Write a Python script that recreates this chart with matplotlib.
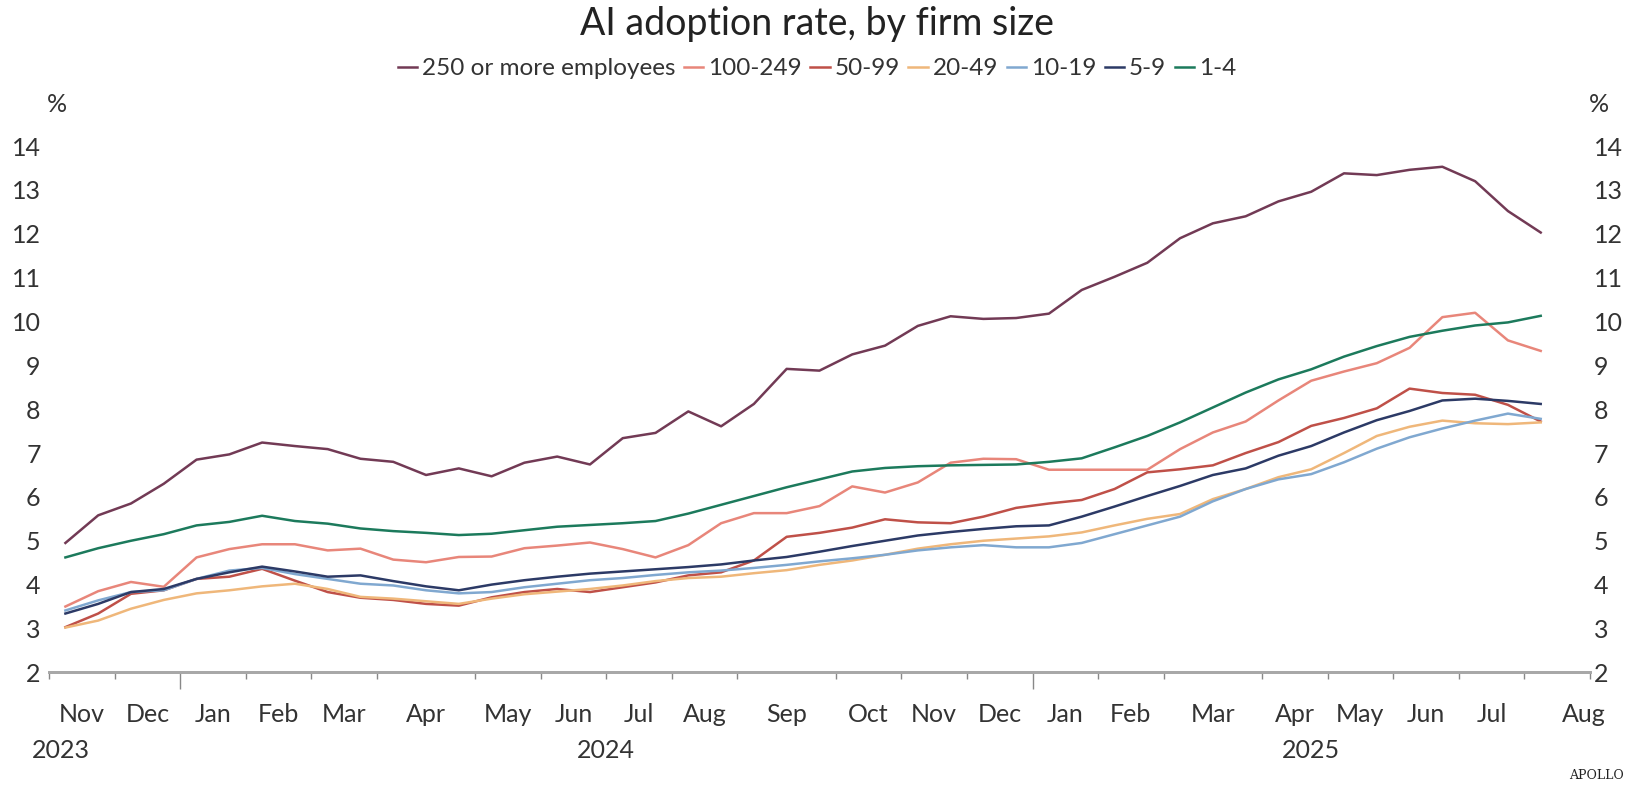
import numpy as np
import matplotlib
matplotlib.use('Agg')
import matplotlib.pyplot as plt
from matplotlib.transforms import blended_transform_factory

# AI adoption rate (%), biweekly survey periods Nov 2023 - Aug 2025
emp_250 = [4.95, 5.58, 5.85, 6.3, 6.85, 6.97, 7.24, 7.16, 7.09, 6.87, 6.8, 6.5, 6.65, 6.47, 6.78, 6.92,
           6.74, 7.34, 7.46, 7.95, 7.61, 8.12, 8.92, 8.88, 9.25, 9.45, 9.9, 10.12, 10.06, 10.08, 10.18, 10.72,
           11.02, 11.34, 11.9, 12.24, 12.4, 12.74, 12.96, 13.38, 13.34, 13.46, 13.53, 13.2, 12.52, 12.03]
emp_100_249 = [3.5, 3.85, 4.06, 3.95, 4.62, 4.81, 4.92, 4.92, 4.78, 4.82, 4.57, 4.51, 4.63, 4.64, 4.83, 4.89,
               4.96, 4.81, 4.62, 4.9, 5.4, 5.63, 5.63, 5.79, 6.24, 6.1, 6.33, 6.78, 6.87, 6.86, 6.62, 6.62,
               6.62, 6.62, 7.09, 7.47, 7.72, 8.2, 8.65, 8.86, 9.05, 9.4, 10.1, 10.2, 9.57, 9.33]
emp_50_99 = [3.03, 3.34, 3.79, 3.87, 4.13, 4.18, 4.36, 4.09, 3.83, 3.7, 3.65, 3.56, 3.52, 3.71, 3.83, 3.9,
             3.83, 3.94, 4.05, 4.21, 4.28, 4.55, 5.09, 5.18, 5.3, 5.49, 5.42, 5.4, 5.55, 5.75, 5.85, 5.93,
             6.18, 6.56, 6.63, 6.72, 7.0, 7.25, 7.62, 7.8, 8.02, 8.47, 8.37, 8.33, 8.1, 7.72]
emp_20_49 = [3.02, 3.18, 3.45, 3.65, 3.8, 3.87, 3.96, 4.02, 3.9, 3.72, 3.68, 3.62, 3.56, 3.68, 3.78, 3.84,
             3.9, 3.98, 4.08, 4.15, 4.18, 4.26, 4.33, 4.45, 4.55, 4.68, 4.82, 4.92, 5.0, 5.05, 5.1, 5.19,
             5.35, 5.5, 5.61, 5.95, 6.18, 6.45, 6.63, 7.0, 7.39, 7.6, 7.74, 7.68, 7.66, 7.7]
emp_10_19 = [3.41, 3.64, 3.83, 3.87, 4.13, 4.32, 4.38, 4.24, 4.13, 4.02, 3.98, 3.87, 3.8, 3.83, 3.94, 4.02,
             4.1, 4.15, 4.22, 4.28, 4.32, 4.38, 4.45, 4.53, 4.6, 4.68, 4.78, 4.85, 4.9, 4.85, 4.85, 4.95,
             5.15, 5.35, 5.55, 5.9, 6.18, 6.4, 6.52, 6.79, 7.1, 7.36, 7.56, 7.74, 7.9, 7.78]
emp_5_9 = [3.34, 3.56, 3.83, 3.9, 4.13, 4.28, 4.41, 4.3, 4.18, 4.21, 4.08, 3.96, 3.87, 4.0, 4.1, 4.18,
           4.25, 4.3, 4.35, 4.4, 4.46, 4.55, 4.63, 4.75, 4.88, 5.0, 5.12, 5.2, 5.27, 5.33, 5.35, 5.55,
           5.78, 6.02, 6.25, 6.5, 6.65, 6.94, 7.16, 7.47, 7.75, 7.96, 8.2, 8.24, 8.19, 8.12]
emp_1_4 = [4.62, 4.83, 5.0, 5.15, 5.35, 5.43, 5.57, 5.45, 5.39, 5.28, 5.22, 5.18, 5.13, 5.16, 5.24, 5.32,
           5.36, 5.4, 5.45, 5.62, 5.82, 6.02, 6.22, 6.4, 6.58, 6.66, 6.7, 6.72, 6.73, 6.74, 6.8, 6.88,
           7.13, 7.39, 7.7, 8.04, 8.38, 8.68, 8.91, 9.2, 9.44, 9.65, 9.79, 9.91, 9.98, 10.13]

month_labels = ['Nov', 'Dec', 'Jan', 'Feb', 'Mar', 'Apr', 'May', 'Jun', 'Jul', 'Aug', 'Sep',
                'Oct', 'Nov', 'Dec', 'Jan', 'Feb', 'Mar', 'Apr', 'May', 'Jun', 'Jul', 'Aug']
month_periods = [2, 2, 2, 2, 2, 3, 2, 2, 2, 2, 3, 2, 2, 2, 2, 2, 3, 2, 2, 2, 2, 2]
year_labels = ['2023', '2024', '2025']
year_pos = [0.35, 17.0, 38.5]

names = ['250 or more employees', '100-249', '50-99', '20-49', '10-19', '5-9', '1-4']
values = [emp_250, emp_100_249, emp_50_99, emp_20_49, emp_10_19, emp_5_9, emp_1_4]
colors = ['#723a55', '#e8867a', '#bf5048', '#efb77a', '#80a8d0', '#2c3a66', '#1c7a5c']

plt.rcParams['font.family'] = ['Lato', 'DejaVu Sans']
txt = '#333333'

fig = plt.figure(figsize=(16.34, 7.9), dpi=100)
ax = fig.add_axes([0.030, 0.149, 0.943, 0.666])

x = np.arange(len(emp_250)) + 0.5
for name, vals, col in zip(names, values, colors):
    ax.plot(x, vals, color=col, lw=1.8, label=name)

bounds = np.concatenate([[0], np.cumsum(month_periods)])
ax.set_xlim(0, bounds[-1])
ax.set_ylim(2, 14)

# month boundaries as ticks, longer ones at the year change
ax.set_xticks(bounds)
ax.set_xticklabels([''] * len(bounds))
ax.tick_params(axis='x', which='major', direction='out', length=5, width=1, color='#888888')
for b, tick in zip(bounds, ax.xaxis.get_major_ticks()):
    idx = np.searchsorted(bounds, b)
    if idx < len(month_labels) and month_labels[idx] == 'Jan':
        tick.tick1line.set_markersize(12)

centers = (bounds[:-1] + bounds[1:]) / 2.0
centers[-1] = bounds[-1] - 0.2
ax.set_xticks(centers, minor=True)
ax.set_xticklabels(month_labels, minor=True)
ax.tick_params(axis='x', which='minor', length=0, pad=22, labelsize=18, labelcolor=txt)

trans = blended_transform_factory(ax.transData, ax.transAxes)
for lab, pos in zip(year_labels, year_pos):
    ax.text(pos, -0.148, lab, transform=trans, ha='center', va='center', fontsize=18, color=txt)

ax.set_yticks(range(2, 15))
ax.tick_params(axis='y', length=0, pad=6, labelsize=18, labelcolor=txt)
ax2 = ax.twinx()
ax2.set_ylim(ax.get_ylim())
ax2.set_yticks(range(2, 15))
ax2.tick_params(axis='y', length=0, pad=3, labelsize=18, labelcolor=txt)

for a in (ax, ax2):
    for s in ['top', 'left', 'right']:
        a.spines[s].set_visible(False)
    a.spines['bottom'].set_color('#a8a8a8')
    a.spines['bottom'].set_linewidth(2)

fig.text(47 / 1634, 0.868, '%', fontsize=18, color=txt, ha='left', va='center')
fig.text(1589 / 1634, 0.868, '%', fontsize=18, color=txt, ha='left', va='center')

fig.text(0.5, 0.970, 'AI adoption rate, by firm size', fontsize=27, color='#222222',
         ha='center', va='center')
handles, labels = ax.get_legend_handles_labels()
fig.legend(handles, labels, loc='center', bbox_to_anchor=(0.5, 0.913), ncol=7, frameon=False,
           fontsize=17.5, handlelength=0.8, handletextpad=0.2, columnspacing=0.35,
           labelcolor=txt)

fig.text(0.977, 0.018, 'APOLLO', fontsize=9, family='DejaVu Serif', color='#222222',
         ha='center', va='center')

fig.savefig('out.png', dpi=100)
